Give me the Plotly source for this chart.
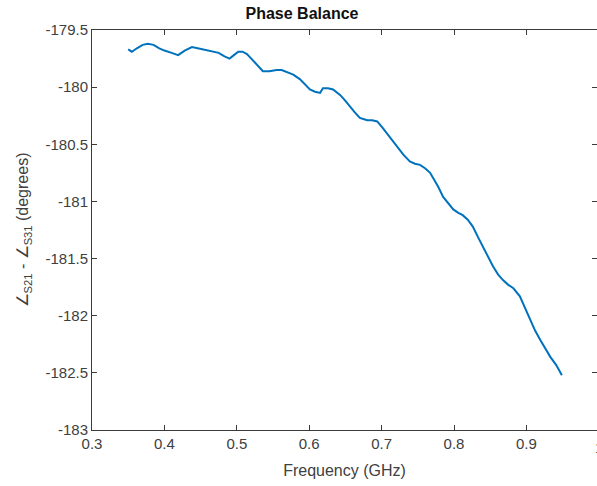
import plotly.graph_objects as go

freq_ghz = [0.350, 0.355, 0.362, 0.370, 0.377, 0.385, 0.393, 0.400, 0.410, 0.419,
            0.428, 0.438, 0.446, 0.453, 0.460, 0.467, 0.475, 0.483, 0.490, 0.496,
            0.502, 0.508, 0.514, 0.520, 0.528, 0.536, 0.545, 0.555, 0.562, 0.569,
            0.578, 0.587, 0.595, 0.601, 0.608, 0.615, 0.619, 0.626, 0.633, 0.643,
            0.650, 0.656, 0.663, 0.670, 0.680, 0.687, 0.694, 0.702, 0.709, 0.716,
            0.723, 0.730, 0.739, 0.746, 0.753, 0.760, 0.767, 0.771, 0.778, 0.785,
            0.792, 0.799, 0.806, 0.812, 0.819, 0.826, 0.833, 0.840, 0.847, 0.854,
            0.861, 0.868, 0.875, 0.882, 0.891, 0.898, 0.905, 0.912, 0.919, 0.926,
            0.933, 0.941, 0.949]
phase_diff = [-179.67, -179.69, -179.66, -179.63, -179.62, -179.63, -179.66, -179.68, -179.70, -179.72,
              -179.68, -179.65, -179.66, -179.67, -179.68, -179.69, -179.70, -179.73, -179.75, -179.72,
              -179.69, -179.69, -179.71, -179.75, -179.81, -179.86, -179.86, -179.85, -179.85, -179.87,
              -179.89, -179.93, -179.98, -180.02, -180.04, -180.05, -180.01, -180.01, -180.02, -180.07,
              -180.12, -180.17, -180.22, -180.27, -180.29, -180.29, -180.30, -180.36, -180.42, -180.48,
              -180.54, -180.59, -180.65, -180.67, -180.68, -180.71, -180.75, -180.79, -180.87, -180.96,
              -181.02, -181.07, -181.10, -181.12, -181.16, -181.22, -181.31, -181.40, -181.49, -181.57,
              -181.64, -181.69, -181.73, -181.76, -181.83, -181.93, -182.04, -182.13, -182.21, -182.29,
              -182.36, -182.43, -182.52]

x_ticks = [0.3, 0.4, 0.5, 0.6, 0.7, 0.8, 0.9]
x_ticklabels = ["0.3", "0.4", "0.5", "0.6", "0.7", "0.8", "0.9"]
y_ticks = [-183, -182.5, -182, -181.5, -181, -180.5, -180, -179.5]
y_ticklabels = ["-183", "-182.5", "-182", "-181.5", "-181", "-180.5", "-180", "-179.5"]

W, H = 597, 486
L, T, B, R = 92, 30, 56, 0
x_lo = 0.3
x_hi = 0.3 + (W - R - L) / 724.0

txt = "#404040"
axc = "#3a3a3a"
font = "Liberation Sans, Arial, sans-serif"

fig = go.Figure()
fig.add_trace(go.Scatter(x=freq_ghz, y=phase_diff, mode="lines",
                         line=dict(color="#0072BD", width=2), showlegend=False))

fig.update_layout(
    width=W, height=H,
    margin=dict(l=L, r=R, t=T, b=B),
    paper_bgcolor="white", plot_bgcolor="white",
    font=dict(family=font, size=15, color=txt),
    title=dict(text="<b>Phase Balance</b>", x=302 / W, xref="container", xanchor="center",
               y=1 - 13 / H, yref="container", yanchor="middle",
               font=dict(family=font, size=16, color="#111111")),
)
fig.update_xaxes(
    range=[x_lo, x_hi], tickvals=x_ticks, ticktext=x_ticklabels,
    showline=True, linecolor=axc, linewidth=1, mirror="ticks",
    ticks="inside", ticklen=5, tickcolor=axc, showgrid=False, zeroline=False,
    tickfont=dict(size=15, color=txt),
    title=dict(text="Frequency (GHz)", font=dict(size=16, color=txt), standoff=13),
)
fig.update_yaxes(
    range=[-183, -179.5], tickvals=y_ticks, ticktext=y_ticklabels,
    showline=True, linecolor=axc, linewidth=1, mirror="ticks",
    ticks="inside", ticklen=5, tickcolor=axc, showgrid=False, zeroline=False,
    tickfont=dict(size=15, color=txt),
    title=dict(text="∠<sub>S21</sub> - ∠<sub>S31</sub> (degrees)", font=dict(size=16, color=txt), standoff=12),
)
# partially visible "1" tick label at the clipped right edge
fig.add_annotation(text="1", xref="paper", yref="paper",
                   x=(1.0 - x_lo) / (x_hi - x_lo), y=0, yanchor="top", yshift=-7,
                   showarrow=False, font=dict(size=15, color=txt), xanchor="center")

fig.write_html("out.html")
